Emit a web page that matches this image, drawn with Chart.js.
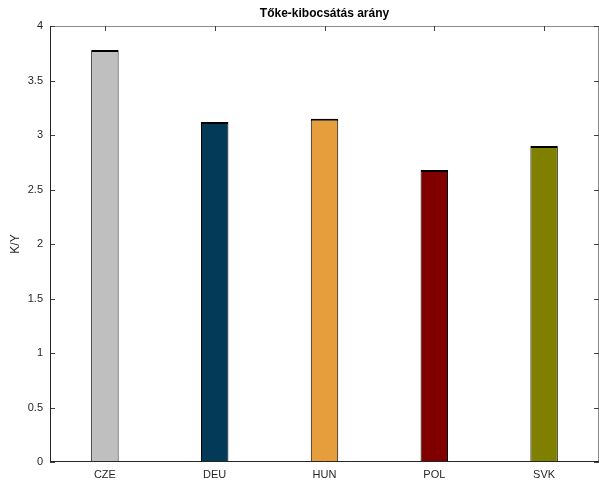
<!DOCTYPE html>
<html>
<head>
<meta charset="utf-8">
<script src="https://cdn.jsdelivr.net/npm/chart.js@4"></script>
<style>
  html, body { margin: 0; padding: 0; background: #fff; }
  #wrap { width: 599px; height: 481px; }
</style>
</head>
<body>
<div id="wrap"><canvas id="ky" width="599" height="481"></canvas></div>
<script>
(function () {
    "use strict";

    // Data
    var countries = ["CZE", "DEU", "HUN", "POL", "SVK"];
    var ratios = [3.78, 3.12, 3.15, 2.68, 2.90];
    var barColors = ["#bfbfbf", "#033a57", "#e69e3c", "#800000", "#808000"];
    var yTicks = [0, 0.5, 1, 1.5, 2, 2.5, 3, 3.5, 4];

    var font = "'Liberation Sans', Arial, Helvetica, sans-serif";

    // Axes box with inward ticks (matlab style)
    var boxPlugin = {
        id: "axesBox",
        beforeDatasetsDraw: function (chart) {
            var c = chart.ctx, a = chart.chartArea;
            var xs = chart.scales.x, ys = chart.scales.y;
            c.save();
            c.lineWidth = 1;
            // top + right edges, lighter
            c.strokeStyle = "#8c8c8c";
            c.beginPath();
            c.moveTo(a.left, a.top + 0.5);
            c.lineTo(a.right, a.top + 0.5);
            c.moveTo(a.right - 0.5, a.top);
            c.lineTo(a.right - 0.5, a.bottom);
            c.stroke();
            // ticks
            c.strokeStyle = "#404040";
            c.beginPath();
            yTicks.forEach(function (v) {
                var y = Math.round(ys.getPixelForValue(v)) + 0.5;
                c.moveTo(a.left, y); c.lineTo(a.left + 5, y);
                c.moveTo(a.right, y); c.lineTo(a.right - 5, y);
            });
            countries.forEach(function (n, i) {
                var x = Math.round(xs.getPixelForValue(i)) + 0.5;
                c.moveTo(x, a.bottom); c.lineTo(x, a.bottom - 5);
                c.moveTo(x, a.top); c.lineTo(x, a.top + 5);
            });
            c.stroke();
            c.restore();
        },
        afterDatasetsDraw: function (chart) {
            var c = chart.ctx, a = chart.chartArea;
            c.save();
            c.strokeStyle = "#262626";
            c.lineWidth = 1;
            c.beginPath();
            c.moveTo(a.left + 0.5, a.top);
            c.lineTo(a.left + 0.5, a.bottom);
            c.moveTo(a.left, a.bottom - 0.5);
            c.lineTo(a.right, a.bottom - 0.5);
            c.stroke();
            c.restore();
        }
    };

    var ctx = document.getElementById("ky").getContext("2d");
    var myChart = new Chart(ctx, {
        type: "bar",
        data: {
            labels: countries,
            datasets: [{
                label: "K/Y",
                data: ratios,
                backgroundColor: barColors,
                borderColor: "#000000",
                borderWidth: {top: 2, left: 1, right: 1, bottom: 0},
                borderSkipped: false,
                barPercentage: 0.25,
                categoryPercentage: 1
            }]
        },
        options: {
            responsive: false,
            animation: false,
            layout: {padding: {top: 0, left: 0, right: -3, bottom: 0}},
            plugins: {
                legend: {display: false},
                tooltip: {enabled: false},
                title: {
                    display: true,
                    text: "Tőke-kibocsátás arány",
                    fullSize: false,
                    color: "#000",
                    font: {family: font, size: 12, weight: "bold", lineHeight: 1.2},
                    padding: {top: 6, bottom: 5.6}
                }
            },
            scales: {
                x: {
                    grid: {display: false, drawTicks: false},
                    border: {display: false},
                    ticks: {color: "#262626", font: {family: font, size: 11}, padding: 6},
                    afterFit: function (s) { s.height = 19; }
                },
                y: {
                    min: 0,
                    max: 4,
                    grid: {display: false, drawTicks: false},
                    border: {display: false},
                    afterBuildTicks: function (s) {
                        s.ticks = yTicks.map(function (v) { return {value: v}; });
                    },
                    ticks: {
                        color: "#262626",
                        font: {family: font, size: 11},
                        padding: 7,
                        callback: function (v) { return String(v); }
                    },
                    title: {
                        display: true,
                        text: "K/Y",
                        color: "#262626",
                        font: {family: font, size: 12},
                        padding: {top: 8, bottom: 0}
                    },
                    afterFit: function (s) { s.width = 50; }
                }
            }
        },
        plugins: [boxPlugin]
    });
})();
</script>
</body>
</html>
